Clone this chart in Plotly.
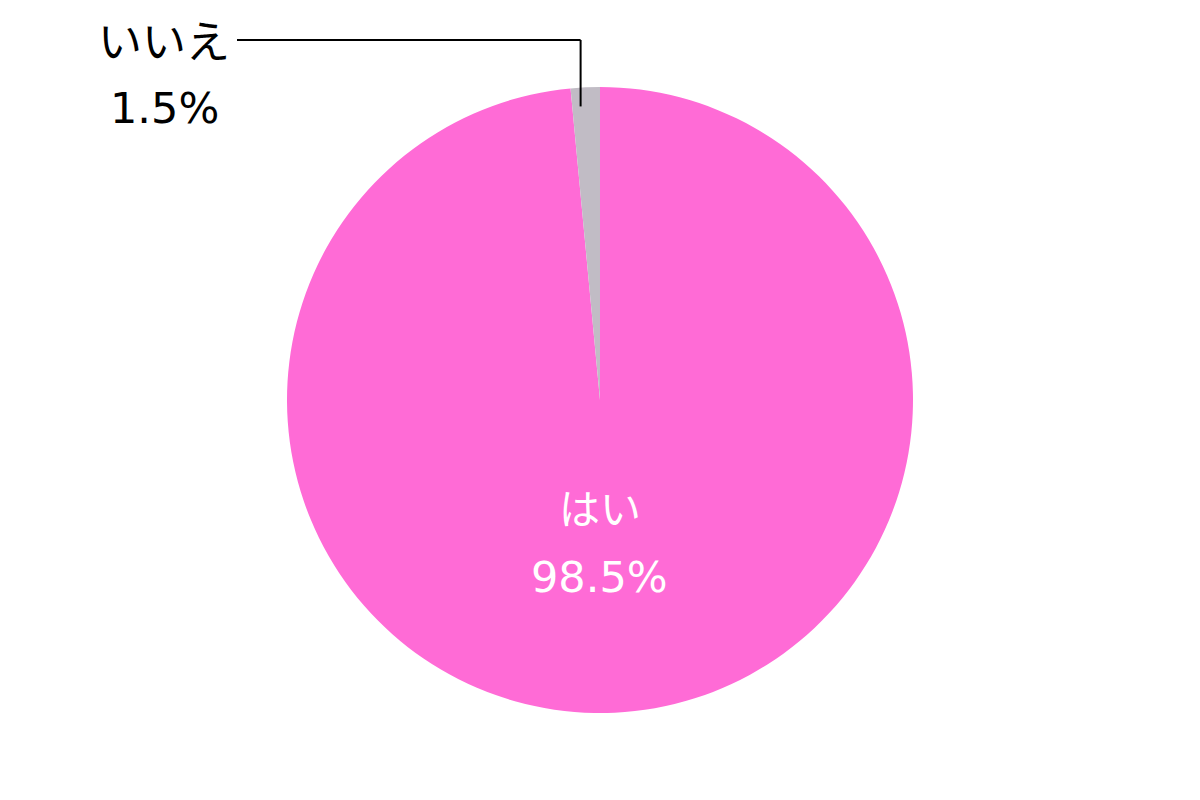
import math
import plotly.graph_objects as go

labels = ["はい", "いいえ"]
values = [98.5, 1.5]
colors = ["#FF6BD6", "#C1BCC5"]

W, H = 1200, 800
OFF = 8  # browser body margin
cx, cy, R = 600 - OFF, 400 - OFF, 313
FONT = "DejaVu Sans, Noto Sans CJK JP"


def px(x):
    return (x - OFF) / W


def py(y):
    return 1 - (y - OFF) / H


fig = go.Figure()
fig.add_trace(go.Pie(
    labels=labels,
    values=values,
    sort=False,
    direction="clockwise",
    rotation=0,
    marker=dict(colors=colors, line=dict(width=0)),
    textinfo="none",
    hoverinfo="label+percent",
    showlegend=False,
    domain=dict(x=[0, 2 * cx / W], y=[(H - (cy + R)) / H, (H - (cy - R)) / H]),
))

# leader line for small slice
total = sum(values)
ang = 360 * (values[0] + 0.3 * values[1]) / total
ax = cx + 0.94 * R * math.sin(math.radians(ang))
ay = cy - 0.94 * R * math.cos(math.radians(ang))
ly = 40 - OFF
lx_end = 237 - OFF
line = dict(color="black", width=2)
fig.add_shape(type="line", xref="paper", yref="paper",
              x0=ax / W, y0=1 - ay / H, x1=ax / W, y1=1 - ly / H, line=line)
fig.add_shape(type="line", xref="paper", yref="paper",
              x0=ax / W, y0=1 - ly / H, x1=lx_end / W, y1=1 - ly / H, line=line)

# labels
ann = dict(xref="paper", yref="paper", showarrow=False,
           xanchor="center", yanchor="middle")
fig.add_annotation(x=px(164), y=py(43), text=labels[1],
                   font=dict(size=44, color="black", family=FONT), **ann)
fig.add_annotation(x=px(164), y=py(108), text=f"{values[1]:.1f}%",
                   font=dict(size=43, color="black", family=FONT), **ann)
fig.add_annotation(x=px(600), y=py(510), text=labels[0],
                   font=dict(size=41, color="white", family=FONT), **ann)
fig.add_annotation(x=px(599), y=py(577), text=f"{values[0]:.1f}%",
                   font=dict(size=43, color="white", family=FONT), **ann)

fig.update_layout(width=W, height=H, margin=dict(l=0, r=0, t=0, b=0),
                  paper_bgcolor="white", plot_bgcolor="white")
fig.write_html("out.html")
